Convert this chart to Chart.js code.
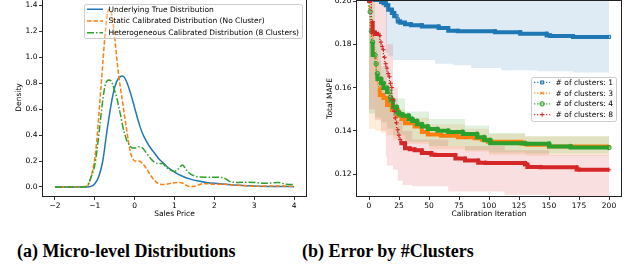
<!DOCTYPE html>
<html>
<head>
<meta charset="utf-8">
<script src="https://cdn.jsdelivr.net/npm/chart.js@4.4.1/dist/chart.umd.min.js"></script>
<style>
  html, body { margin: 0; padding: 0; background: #fff; }
  #wrap { position: relative; width: 633px; height: 270px; overflow: hidden; }
  #left { position: absolute; left: 0; top: -1px; }
  #right { position: absolute; left: 320px; top: 0; }
  .cap { position: absolute; top: 242px; font: bold 18px/18px "Liberation Serif", serif; white-space: nowrap; color: #000; }
</style>
</head>
<body>
<div id="wrap">
  <canvas id="left" width="316" height="226"></canvas>
  <canvas id="right" width="313" height="225"></canvas>
  <div class="cap" style="left:17px">(a) Micro-level Distributions</div>
  <div class="cap" style="left:302px">(b) Error by #Clusters</div>
</div>
<script>
// (a) micro-level distributions, density vs sales price
const trueX = [-2, -1.2, -1.1, -1.0, -0.9, -0.8, -0.7, -0.6, -0.5, -0.4, -0.3, -0.2, -0.1, 0, 0.1, 0.2, 0.3, 0.4, 0.5, 0.6, 0.7, 0.8, 0.9, 1.0, 1.2, 1.4, 1.6, 1.8, 2.0, 2.5, 3.0, 3.5, 4.0];
const trueY = [0, 0, 0.004, 0.025, 0.08, 0.2, 0.42, 0.62, 0.77, 0.84, 0.855, 0.81, 0.72, 0.61, 0.5, 0.41, 0.35, 0.3, 0.26, 0.22, 0.19, 0.16, 0.135, 0.115, 0.082, 0.06, 0.045, 0.035, 0.028, 0.015, 0.008, 0.004, 0.002];

const staticX = [-2, -1.2, -1.1, -1.0, -0.95, -0.9, -0.85, -0.8, -0.75, -0.7, -0.65, -0.6, -0.55, -0.5, -0.45, -0.4, -0.35, -0.3, -0.25, -0.2, -0.15, -0.1, -0.05, 0, 0.1, 0.2, 0.3, 0.4, 0.5, 0.6, 0.7, 0.8, 0.9, 1.0, 1.1, 1.2, 1.3, 1.4, 1.5, 1.6, 1.7, 1.8, 2.0, 2.2, 2.5, 2.8, 3.0, 3.5, 4.0];
const staticY = [0, 0.003, 0.07, 0.22, 0.36, 0.55, 0.75, 0.95, 1.15, 1.3, 1.37, 1.36, 1.28, 1.15, 1.0, 0.86, 0.75, 0.65, 0.54, 0.44, 0.34, 0.26, 0.22, 0.2, 0.2, 0.18, 0.14, 0.09, 0.05, 0.025, 0.018, 0.02, 0.028, 0.032, 0.035, 0.03, 0.012, 0.002, 0.005, 0.015, 0.025, 0.025, 0.02, 0.02, 0.015, 0.01, 0.005, 0.008, 0.005];

const heteroX = [-2, -1.25, -1.2, -1.15, -1.1, -1.0, -0.95, -0.9, -0.85, -0.8, -0.75, -0.7, -0.65, -0.6, -0.55, -0.5, -0.45, -0.4, -0.35, -0.3, -0.25, -0.2, -0.15, -0.1, -0.05, 0, 0.1, 0.2, 0.3, 0.4, 0.5, 0.6, 0.7, 0.8, 0.9, 1.0, 1.1, 1.2, 1.3, 1.4, 1.5, 1.6, 1.8, 2.0, 2.2, 2.3, 2.4, 2.6, 2.8, 3.0, 3.2, 3.4, 3.6, 3.8, 4.0];
const heteroY = [0, 0, 0.01, 0.03, 0.07, 0.17, 0.27, 0.4, 0.54, 0.67, 0.77, 0.815, 0.825, 0.82, 0.79, 0.74, 0.69, 0.62, 0.55, 0.47, 0.41, 0.36, 0.33, 0.31, 0.3, 0.3, 0.31, 0.3, 0.26, 0.22, 0.19, 0.18, 0.18, 0.15, 0.13, 0.12, 0.14, 0.17, 0.13, 0.1, 0.085, 0.077, 0.075, 0.075, 0.072, 0.06, 0.04, 0.035, 0.037, 0.035, 0.028, 0.03, 0.035, 0.02, 0.018];

const priceTicks = [-2, -1, 0, 1, 2, 3, 4];
const densityTicks = [0, 0.2, 0.4, 0.6, 0.8, 1.0, 1.2, 1.4];

// (b) total MAPE vs calibration iteration (best so far), by number of clusters
const c1Iter = [0, 5, 10, 12, 14, 16, 19, 21, 23, 24, 26, 30, 35, 44, 58, 66, 74, 105, 126, 148, 151, 170, 200];
const c1Mape = [0.215, 0.205, 0.2005, 0.1995, 0.199, 0.198, 0.196, 0.1945, 0.193, 0.1915, 0.1905, 0.19, 0.1893, 0.1888, 0.1882, 0.1875, 0.1862, 0.186, 0.1856, 0.1849, 0.1841, 0.1838, 0.1834];
const c3Iter = [0, 1, 2, 3, 4, 5, 6, 7, 8, 9, 12, 15, 19, 24, 27, 30, 38, 44, 49, 60, 74, 88, 94, 99, 127, 132, 150, 170, 200];
const c3Mape = [0.205, 0.197, 0.19, 0.184, 0.178, 0.176, 0.1735, 0.165, 0.162, 0.16, 0.1566, 0.1552, 0.152, 0.1496, 0.147, 0.1455, 0.1435, 0.142, 0.1395, 0.1383, 0.1377, 0.137, 0.1366, 0.1359, 0.135, 0.134, 0.1336, 0.1328, 0.1328];
const c4Iter = [0, 1, 2, 3, 5, 6, 7, 10, 12, 15, 17, 18, 20, 23, 25, 28, 33, 36, 40, 44, 49, 57, 66, 78, 90, 96, 101, 130, 150, 168, 200];
const c4Mape = [0.205, 0.195, 0.186, 0.181, 0.175, 0.171, 0.1665, 0.164, 0.162, 0.1598, 0.158, 0.1555, 0.154, 0.151, 0.1485, 0.1475, 0.147, 0.1455, 0.1445, 0.143, 0.142, 0.1408, 0.14, 0.1395, 0.1385, 0.137, 0.1357, 0.1343, 0.134, 0.1328, 0.1323];
const c8Iter = [0, 2, 3, 5, 8, 9, 10, 11, 12, 13, 14, 15, 16, 17, 18, 19, 20, 21, 22, 23, 24, 25, 26, 27, 30, 34, 38, 44, 52, 55, 72, 80, 91, 97, 130, 132, 143, 173, 175, 200];
const c8Mape = [0.21, 0.2, 0.1905, 0.1855, 0.1848, 0.184, 0.181, 0.179, 0.1775, 0.174, 0.171, 0.169, 0.1665, 0.165, 0.162, 0.16, 0.1545, 0.149, 0.146, 0.1437, 0.1405, 0.138, 0.136, 0.135, 0.1343, 0.132, 0.1315, 0.131, 0.1298, 0.129, 0.1288, 0.1272, 0.1263, 0.1253, 0.1252, 0.1244, 0.1233, 0.1232, 0.1222, 0.122];

// shaded spread around each curve
const c1BandIter = [0, 14, 16, 20, 25, 55, 70, 85, 110, 140, 170, 200];
const c1Hi = [0.21, 0.21, 0.21, 0.21, 0.21, 0.21, 0.21, 0.21, 0.21, 0.21, 0.21, 0.21];
const c1Lo = [0.205, 0.2, 0.176, 0.1745, 0.1727, 0.1727, 0.171, 0.1703, 0.169, 0.168, 0.1675, 0.167];
const c34BandIter = [0, 5, 10, 15, 20, 30, 50, 80, 100, 130, 200];
const c3Hi = [0.21, 0.19, 0.172, 0.162, 0.157, 0.15, 0.146, 0.143, 0.141, 0.1385, 0.1375];
const c3Lo = [0.142, 0.141, 0.14, 0.139, 0.138, 0.136, 0.134, 0.1315, 0.1305, 0.129, 0.1285];
const c4Hi = [0.21, 0.2, 0.185, 0.17, 0.162, 0.155, 0.149, 0.1455, 0.1425, 0.139, 0.1375];
const c4Lo = [0.15, 0.148, 0.146, 0.144, 0.141, 0.138, 0.135, 0.133, 0.131, 0.13, 0.1295];
const c8BandIter = [0, 5, 10, 14, 15, 20, 24, 28, 36, 66, 113, 150, 200];
const c8Hi = [0.21, 0.21, 0.21, 0.205, 0.2, 0.18, 0.16, 0.145, 0.14, 0.136, 0.133, 0.131, 0.129];
const c8Lo = [0.16, 0.15, 0.145, 0.14, 0.128, 0.124, 0.1221, 0.117, 0.115, 0.1144, 0.112, 0.1105, 0.109];

const iterTicks = [0, 25, 50, 75, 100, 125, 150, 175, 200];
const mapeTicks = [0.12, 0.14, 0.16, 0.18, 0.20];

const BLUE = '#1f77b4', ORANGE = '#ff7f0e', GREEN = '#2ca02c', RED = '#d62728';
const FONT = 'DejaVu Sans';

Chart.defaults.font.family = FONT;
Chart.defaults.font.size = 7.5;
Chart.defaults.color = '#000';
Chart.defaults.animation = false;

const pts = (xs, ys) => xs.map((x, i) => ({ x: x, y: ys[i] }));
const rgba = (hex, a) => {
  const n = parseInt(hex.slice(1), 16);
  return `rgba(${n >> 16},${(n >> 8) & 255},${n & 255},${a})`;
};

// box around the plot area, like matplotlib spines
const frame = {
  id: 'frame',
  afterDatasetsDraw(chart) {
    const a = chart.chartArea, ctx = chart.ctx;
    const l = Math.round(a.left) - 0.5, t = Math.round(a.top) - 0.5;
    const r = Math.round(a.right) + 0.5, b = Math.round(a.bottom) + 0.5;
    ctx.save();
    ctx.strokeStyle = '#222';
    ctx.lineWidth = 1;
    ctx.strokeRect(l, t, r - l, b - t);
    ctx.restore();
  }
};

// legend drawn inside the plot area
const boxLegend = {
  id: 'boxLegend',
  afterDraw(chart, args, opts) {
    const ctx = chart.ctx, a = chart.chartArea;
    const items = chart.data.datasets.filter(d => d.label);
    ctx.save();
    ctx.font = `7.5px "${FONT}"`;
    const tw = Math.max(...items.map(d => ctx.measureText(d.label).width));
    const w = 3 + 16 + 5.5 + tw + 3;
    const h = opts.height;
    const x0 = a.right - opts.right - w;
    const y0 = opts.center ? (a.top + a.bottom) / 2 - h / 2 : a.top + opts.top;
    ctx.fillStyle = `rgba(255,255,255,${opts.alpha})`;
    ctx.strokeStyle = '#cccccc';
    ctx.lineWidth = 1;
    ctx.beginPath();
    ctx.roundRect(Math.round(x0) + 0.5, Math.round(y0) + 0.5, Math.round(w), Math.round(h), 2);
    ctx.fill();
    ctx.stroke();
    const first = y0 + (h - (items.length - 1) * opts.gap) / 2;
    items.forEach((d, i) => {
      const cy = first + i * opts.gap;
      ctx.strokeStyle = d.borderColor;
      ctx.lineWidth = d.legendWidth || d.borderWidth;
      ctx.setLineDash(d.legendDash || d.borderDash || []);
      ctx.beginPath();
      ctx.moveTo(x0 + 3, cy);
      ctx.lineTo(x0 + 19, cy);
      ctx.stroke();
      ctx.setLineDash([]);
      if (d.pointRadius) {
        ctx.fillStyle = d.pointBackgroundColor;
        ctx.strokeStyle = d.borderColor;
        ctx.lineWidth = d.pointBorderWidth;
        Chart.helpers.drawPoint(ctx, { pointStyle: d.pointStyle, radius: d.pointRadius, borderWidth: d.pointBorderWidth, rotation: 0 }, x0 + 11, cy);
      }
      ctx.fillStyle = '#000';
      ctx.textBaseline = 'middle';
      ctx.fillText(d.label, x0 + 24.5, cy + 0.5);
    });
    ctx.restore();
  }
};

function axis(opts) {
  return {
    type: 'linear',
    min: opts.min,
    max: opts.max,
    grid: { drawOnChartArea: false, drawTicks: true, tickLength: 4, color: '#333' },
    border: { display: false },
    ticks: { padding: 1.5, callback: opts.fmt, autoSkip: false, maxRotation: 0 },
    title: { display: true, text: opts.title, font: { size: 7.5 }, padding: opts.titlePad },
    afterBuildTicks: s => { s.ticks = opts.ticks.map(v => ({ value: v })); },
    afterFit: s => {
      if (s.isHorizontal()) { s.height = opts.size; s.paddingLeft = 0; s.paddingRight = 0; }
      else { s.width = opts.size; s.paddingTop = 0; s.paddingBottom = 0; }
    }
  };
}

new Chart(document.getElementById('left'), {
  type: 'line',
  data: {
    datasets: [
      { label: 'Underlying True Distribution', data: pts(trueX, trueY), borderColor: BLUE, borderWidth: 1.5, order: 3 },
      { label: 'Static Calibrated Distribution (No Cluster)', data: pts(staticX, staticY), borderColor: ORANGE, borderWidth: 1.5, borderDash: [4.5, 2], order: 2 },
      { label: 'Heterogeneous Calibrated Distribution (8 Clusters)', data: pts(heteroX, heteroY), borderColor: GREEN, borderWidth: 1.5, borderDash: [7, 2, 1.5, 2], order: 1 }
    ]
  },
  options: {
    responsive: false,
    layout: { padding: { left: 0, top: 0, right: 10, bottom: 0 }, autoPadding: false },
    elements: { point: { radius: 0 }, line: { cubicInterpolationMode: 'monotone' } },
    plugins: {
      legend: { display: false },
      tooltip: { enabled: false },
      boxLegend: { right: 4, top: 5, height: 34, gap: 11.75, alpha: 0.35 }
    },
    scales: {
      x: axis({ min: -2.3, max: 4.3, ticks: priceTicks, size: 29, title: 'Sales Price', titlePad: { top: 0, bottom: 6.5 },
        fmt: v => (v < 0 ? '\u2212' : '') + Math.abs(v) }),
      y: axis({ min: -0.07, max: 1.45, ticks: densityTicks, size: 43, title: 'Density', titlePad: { top: 15, bottom: 0 },
        fmt: v => v.toFixed(1) })
    }
  },
  plugins: [frame, boxLegend]
});

const markerOpts = (color, style) => ({
  borderColor: color,
  pointStyle: style,
  pointRadius: 2.2,
  pointBorderWidth: 1,
  pointBorderColor: color,
  pointBackgroundColor: rgba(color, 0.35),
  borderWidth: 1.3,
  legendWidth: 1.3,
  legendDash: [1.2, 1.8],
  stepped: 'after',
  segment: {
    borderWidth: c => (c.p1.parsed.x - c.p0.parsed.x > 1.5 ? 4 : 1.3),
    borderDash: c => (c.p1.parsed.x - c.p0.parsed.x > 1.5 ? [] : [1.2, 1.8])
  }
});
const band = (xs, ys, color, order, fill) => ({
  data: pts(xs, ys), borderWidth: 0, pointRadius: 0, stepped: 'after',
  backgroundColor: rgba(color, 0.15), fill: fill, order: order
});

new Chart(document.getElementById('right'), {
  type: 'line',
  data: {
    datasets: [
      band(c1BandIter, c1Hi, BLUE, 20, '+1'),
      band(c1BandIter, c1Lo, BLUE, 19, false),
      band(c34BandIter, c3Hi, ORANGE, 18, '+1'),
      band(c34BandIter, c3Lo, ORANGE, 17, false),
      band(c34BandIter, c4Hi, GREEN, 16, '+1'),
      band(c34BandIter, c4Lo, GREEN, 15, false),
      band(c8BandIter, c8Hi, RED, 14, '+1'),
      band(c8BandIter, c8Lo, RED, 13, false),
      Object.assign({ label: '# of clusters: 1', data: pts(c1Iter, c1Mape), order: 4 }, markerOpts(BLUE, 'rect')),
      Object.assign({ label: '# of clusters: 3', data: pts(c3Iter, c3Mape), order: 3 }, markerOpts(ORANGE, 'crossRot')),
      Object.assign({ label: '# of clusters: 4', data: pts(c4Iter, c4Mape), order: 2 }, markerOpts(GREEN, 'circle')),
      Object.assign({ label: '# of clusters: 8', data: pts(c8Iter, c8Mape), order: 1 }, markerOpts(RED, 'cross'))
    ]
  },
  options: {
    responsive: false,
    layout: { padding: { left: 0, top: 1, right: 12, bottom: 0 }, autoPadding: false },
    plugins: {
      legend: { display: false },
      tooltip: { enabled: false },
      boxLegend: { right: 5, center: true, height: 44, gap: 10.7, alpha: 0.8 }
    },
    scales: {
      x: axis({ min: -10, max: 210, ticks: iterTicks, size: 29, title: 'Calibration Iteration', titlePad: { top: 0, bottom: 6.5 },
        fmt: v => String(v) }),
      y: axis({ min: 0.1099, max: 0.2, ticks: mapeTicks, size: 37, title: 'Total MAPE', titlePad: { top: 5.5, bottom: 0 },
        fmt: v => v.toFixed(2) })
    }
  },
  plugins: [frame, boxLegend]
});
</script>
</body>
</html>
